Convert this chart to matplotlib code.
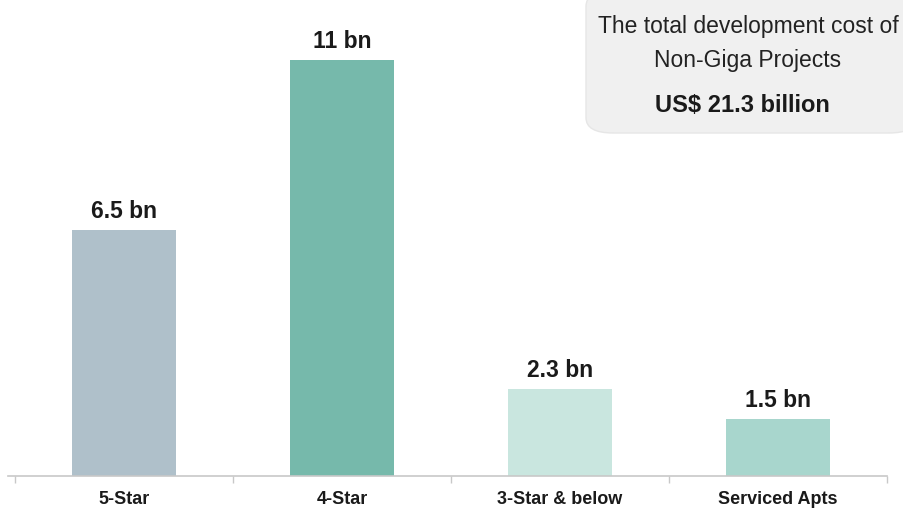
import matplotlib
matplotlib.use("Agg")
import matplotlib.pyplot as plt
from matplotlib.patches import FancyBboxPatch

categories = ["5-Star", "4-Star", "3-Star & below", "Serviced Apts"]
values = [6.5, 11, 2.3, 1.5]
value_labels = ["6.5 bn", "11 bn", "2.3 bn", "1.5 bn"]
colors = ["#AFC0CA", "#76B9AB", "#C9E6DF", "#A8D6CD"]

fam = ["Liberation Sans", "DejaVu Sans"]

fig = plt.figure(figsize=(9.04, 5.10), dpi=100)
ax = fig.add_axes([8 / 904, 0.0647, 879 / 904, 0.9353])
x = list(range(len(categories)))
ax.bar(x, values, width=0.475, color=colors, zorder=2)
ax.set_xlim(-0.532, 3.5)
ax.set_ylim(0, 12.62)

for xi, v, lab in zip(x, values, value_labels):
    ax.annotate(lab, (xi, v), xytext=(0, 6), textcoords="offset points",
                ha="center", va="bottom", fontsize=16.5, fontweight="bold",
                family=fam, color="#1a1a1a")

for s in ["top", "right", "left"]:
    ax.spines[s].set_visible(False)
ax.spines["bottom"].set_color("#c8c8c8")
ax.spines["bottom"].set_linewidth(1.2)
ax.set_yticks([])
ax.set_xticks(x)
ax.set_xticklabels(categories, fontsize=13, fontweight="bold",
                   family=fam, color="#1a1a1a")
ax.tick_params(axis="x", which="major", length=0, pad=10)
ax.set_xticks([-0.5, 0.5, 1.5, 2.5, 3.5], minor=True)
ax.tick_params(axis="x", which="minor", length=5, color="#c8c8c8", width=1)

# info box
box = FancyBboxPatch((586 / 904, 1 - 134 / 510), 330 / 904, 142 / 510,
                     boxstyle="round,pad=0,rounding_size=0.03",
                     transform=fig.transFigure, facecolor="#F0F0F0",
                     edgecolor="#E6E6E6", linewidth=1, zorder=0)
fig.patches.append(box)
fig.text(748 / 904, 1 - 26 / 510, "The total development cost of",
         ha="center", va="center", fontsize=16.5, family=fam,
         color="#222222")
fig.text(748 / 904, 1 - 61 / 510, "Non-Giga Projects",
         ha="center", va="center", fontsize=16.5, family=fam,
         color="#222222")
fig.text(742 / 904, 1 - 106 / 510, "US$ 21.3 billion",
         ha="center", va="center", fontsize=17, fontweight="bold",
         family=fam, color="#1a1a1a")

fig.savefig("out.png", dpi=100)
